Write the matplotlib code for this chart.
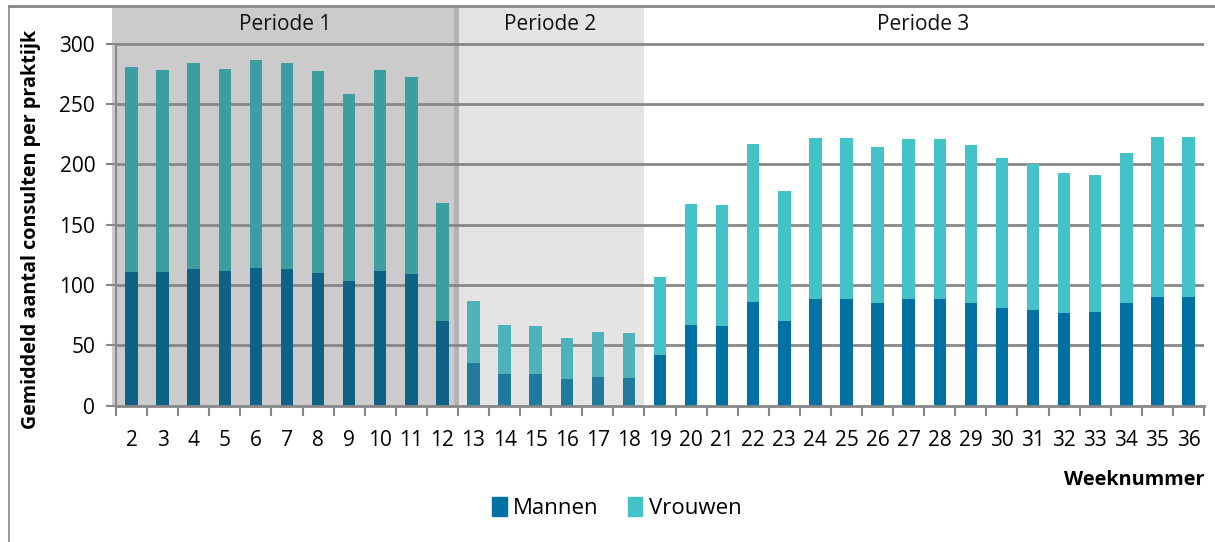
import numpy as np
import matplotlib
matplotlib.use("Agg")
import matplotlib.pyplot as plt
from matplotlib.patches import Patch
from matplotlib.lines import Line2D

plt.rcParams['font.family'] = ['Open Sans', 'DejaVu Sans']

# data
weeks = list(range(2, 37))
mannen = [111, 111, 113, 112, 114, 113, 110, 103, 112, 109, 70,
          35, 26, 26, 22, 24, 23,
          42, 67, 66, 86, 70, 88, 88, 85, 88, 88, 85, 81, 79, 77, 78, 85, 90, 90]
vrouwen = [170, 167, 171, 167, 172, 171, 167, 155, 166, 163, 98,
           52, 41, 40, 34, 37, 37,
           65, 100, 100, 131, 108, 134, 134, 129, 133, 133, 131, 124, 121, 116, 113, 124, 133, 133]
periodes = ["Periode 1", "Periode 2", "Periode 3"]
periode_start = [2, 13, 19]
periode_eind = [12, 18, 36]

# colours (bars look darker under the grey period shading)
kleur_man = ['#0f6283', '#1f7a9d', '#0071a2']
kleur_vrouw = ['#3d9ea1', '#4db2b9', '#43c2c7']
achtergrond = ['#cbcbcb', '#e4e4e4', None]
grid_kleur = '#878787'

def periode_van(w):
    for k in range(len(periodes)):
        if periode_start[k] <= w <= periode_eind[k]:
            return k
    return 2

fig = plt.figure(figsize=(12.15, 5.42), dpi=100)
W, H = 1215, 542
ax = fig.add_axes([116/W, 1-405.7/H, (1204-116)/W, (405.7-6)/H])

x = np.arange(len(weeks))
ymax = (405.7-6)/1.207
ax.set_xlim(-0.5, len(weeks)-0.5)
ax.set_ylim(0, ymax)

# period shading incl. header row
for k in range(len(periodes)):
    a = weeks.index(periode_start[k]) - 0.5
    b = weeks.index(periode_eind[k]) + 0.5
    if achtergrond[k]:
        left = a - 0.13 if k == 0 else a
        ax.axvspan(left, b, color=achtergrond[k], zorder=0, lw=0, clip_on=False)
    ax.text((a+b)/2 - 0.05, 315.8, periodes[k], ha='center', va='center',
            fontsize=15, color='#111111')
ax.axvline(weeks.index(periode_eind[0]) + 0.5 - 0.05, color='#b3b3b3', lw=3.5, zorder=0.5)

for yv in range(50, 301, 50):
    ax.axhline(yv, color=grid_kleur, lw=2, zorder=1)

cm = [kleur_man[periode_van(w)] for w in weeks]
cv = [kleur_vrouw[periode_van(w)] for w in weeks]
ax.bar(x, mannen, width=0.4, color=cm, zorder=2, lw=0)
ax.bar(x, vrouwen, width=0.4, bottom=mannen, color=cv, zorder=2, lw=0)

for s in ['top', 'right']:
    ax.spines[s].set_visible(False)
ax.spines['left'].set_bounds(0, 300)
ax.spines['left'].set_color(grid_kleur)
ax.spines['bottom'].set_color(grid_kleur)
ax.spines['left'].set_linewidth(1.5)
ax.spines['bottom'].set_linewidth(2)

ax.set_yticks(range(0, 301, 50))
ax.tick_params(axis='y', length=7, width=1.5, color=grid_kleur, labelsize=15, pad=8)
ax.set_xticks(np.arange(len(weeks)+1) - 0.5)
ax.set_xticklabels([])
ax.tick_params(axis='x', which='major', length=7, width=1.5, color=grid_kleur)
ax.set_xticks(x, minor=True)
ax.set_xticklabels([str(w) for w in weeks], minor=True)
ax.tick_params(axis='x', which='minor', length=0, labelsize=15, pad=17.5)

ax.set_ylabel("Gemiddeld aantal consulten per praktijk", fontsize=14.2, fontweight='bold')
ax.yaxis.set_label_coords(-75/1088, 0.44)

fig.text(1205/W, 1-480/H, "Weeknummer", ha='right', va='center',
         fontsize=14.3, fontweight='bold')

handles = [Patch(color=kleur_man[2], label='Mannen'),
           Patch(color=kleur_vrouw[2], label='Vrouwen')]
fig.legend(handles=handles, loc='center', bbox_to_anchor=(617/W, 1-508/H), ncol=2,
           frameon=False, fontsize=16, handlelength=0.65, handleheight=0.9,
           handletextpad=0.3, columnspacing=1.3)

# outer chart border (left and top)
fig.add_artist(Line2D([8.5/W, 8.5/W], [0, 1-6/H], color=grid_kleur, lw=1.2))
fig.add_artist(Line2D([8.5/W, 1], [1-6/H, 1-6/H], color=grid_kleur, lw=2))

fig.savefig("out.png", dpi=100)
